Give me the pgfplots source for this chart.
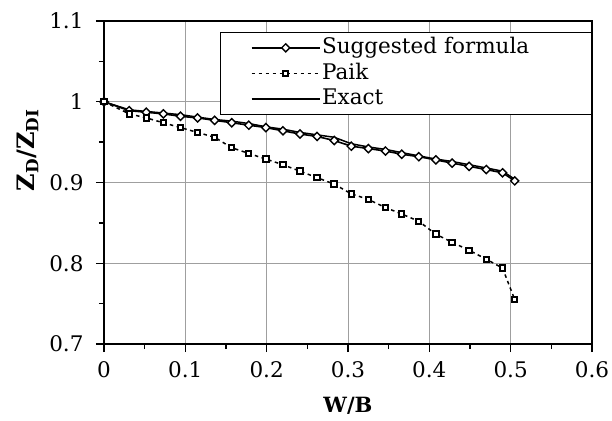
\documentclass[border=0pt]{standalone}
\usepackage{pgfplots}
\pgfplotsset{compat=1.18}
\usepackage{fontspec}
\setmainfont{DejaVu Serif}
\pgfplotstableread{
x y
0 1.000
0.031 0.989
0.052 0.987
0.073 0.985
0.094 0.982
0.115 0.980
0.136 0.977
0.157 0.974
0.178 0.971
0.199 0.968
0.220 0.964
0.241 0.960
0.262 0.957
0.283 0.952
0.304 0.945
0.325 0.942
0.346 0.939
0.366 0.935
0.387 0.932
0.408 0.928
0.428 0.924
0.449 0.920
0.470 0.916
0.490 0.912
0.505 0.902
}\suggested
\pgfplotstableread{
x y
0 1.000
0.031 0.985
0.052 0.980
0.073 0.974
0.094 0.968
0.115 0.962
0.136 0.956
0.157 0.943
0.178 0.936
0.199 0.929
0.220 0.922
0.241 0.914
0.262 0.906
0.283 0.898
0.304 0.886
0.325 0.879
0.346 0.869
0.366 0.861
0.387 0.852
0.408 0.836
0.428 0.826
0.449 0.816
0.470 0.805
0.490 0.794
0.505 0.755
}\paik
\pgfplotstableread{
x y
0 1.000
0.031 0.990
0.052 0.988
0.073 0.986
0.094 0.984
0.115 0.981
0.136 0.978
0.157 0.976
0.178 0.973
0.199 0.969
0.220 0.966
0.241 0.962
0.262 0.959
0.283 0.956
0.304 0.948
0.325 0.944
0.346 0.941
0.366 0.937
0.387 0.933
0.408 0.929
0.428 0.926
0.449 0.922
0.470 0.918
0.490 0.914
0.505 0.904
}\exact
\begin{document}
\begin{tikzpicture}
\begin{axis}[
  at={(0,0)}, anchor=south west,
  scale only axis, width=488pt, height=323pt,
  xmin=0, xmax=0.6, ymin=0.7, ymax=1.1,
  xtick={0,0.1,0.2,0.3,0.4,0.5,0.6},
  ytick={0.7,0.8,0.9,1,1.1},
  minor x tick num=1, minor y tick num=1,
  tick pos=left, tick align=outside,
  major tick length=8pt, minor tick length=5pt,
  every tick/.style={black, line width=1.4pt},
  axis line style={line width=2pt},
  grid=major,
  major grid style={gray!75, line width=0.8pt},
  /pgf/number format/assume math mode=true,
  xticklabel style={yshift=-6pt},
  yticklabel style={xshift=-9pt},
  /pgf/number format/.cd, fixed, precision=1,
  /pgfplots/.cd,
  tick label style={font=\fontsize{21.5}{25}\selectfont},
  xlabel={\textbf{W/B}},
  ylabel={\textbf{Z\textsubscript{D}/Z\textsubscript{DI}}},
  xlabel style={at={(axis description cs:0.5,-0.19)}, anchor=center, font=\fontsize{21}{25}\selectfont},
  ylabel style={at={(axis description cs:-0.156,0.6)}, anchor=center, font=\fontsize{24}{28}\selectfont},
  legend cell align=left,
  legend style={at={(rel axis cs:1.0,0.967)}, anchor=north east,
    draw=black, line width=0.9pt, fill=white,
    inner xsep=30pt, inner ysep=3pt, row sep=0pt,
    font=\fontsize{21.5}{25}\selectfont,
    nodes={inner sep=1.5pt, text height=17pt, text depth=5.5pt, text width=238pt}},
  legend image code/.code={
    \draw[mark repeat=2, mark phase=2, #1] plot coordinates {(0pt,0pt) (34pt,0pt) (68pt,0pt)};
  },
]
\addplot[black, line width=1.6pt, mark=square*, mark size=2.9pt,
  mark options={rotate=45, fill=white, solid, line width=1.4pt}] table[x=x,y=y] {\suggested};
\addlegendentry{Suggested formula}
\addplot[black, line width=1.5pt, dash pattern=on 3.5pt off 3.5pt, mark=square*, mark size=2.7pt,
  mark options={fill=white, solid, line width=2pt}] table[x=x,y=y] {\paik};
\addlegendentry{Paik}
\addplot[black, line width=1.5pt, no marks] table[x=x,y=y] {\exact};
\addlegendentry{Exact}
\end{axis}
\pgfresetboundingbox
\path[use as bounding box] (-104pt,-76pt) rectangle (508pt,344pt);
\end{tikzpicture}
\end{document}
